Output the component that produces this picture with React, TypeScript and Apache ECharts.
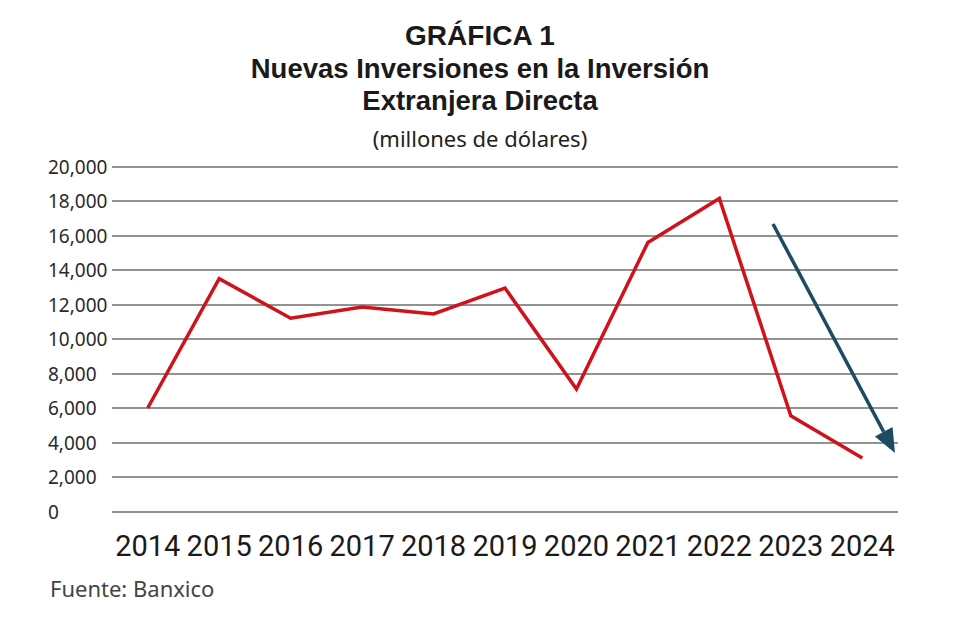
import React, { useEffect, useRef } from "react";
import * as echarts from "echarts";

const years = ["2014", "2015", "2016", "2017", "2018", "2019", "2020", "2021", "2022", "2023", "2024"];
const investment = [6000, 13500, 11200, 11850, 11450, 12950, 7100, 15600, 18150, 5550, 3100];
const yTicks = { min: 0, max: 20000, interval: 2000 };

const titleLines = ["GRÁFICA 1", "Nuevas Inversiones en la Inversión", "Extranjera Directa"];
const subtitle = "(millones de dólares)";
const source = "Fuente: Banxico";

export default function App() {
  const ref = useRef<HTMLDivElement>(null);
  useEffect(() => {
    const chart = echarts.init(ref.current!, null, { renderer: "svg" });
    const font = "'Noto Sans', 'Open Sans', sans-serif";
    const titleFont = "'Liberation Sans', 'Roboto', sans-serif";
    // arrow annotation (pixel space)
    const start = [773, 224];
    const tip = [895, 453];
    const dx = tip[0] - start[0];
    const dy = tip[1] - start[1];
    const len = Math.sqrt(dx * dx + dy * dy);
    const ux = dx / len;
    const uy = dy / len;
    const headLen = 24;
    const headHalf = 10;
    const bx = tip[0] - ux * headLen;
    const by = tip[1] - uy * headLen;
    const px = -uy;
    const py = ux;
    const titleStyle = { fontFamily: titleFont, fontWeight: "bold", color: "#1a1a1a" };
    chart.setOption({
      animation: false,
      backgroundColor: "#ffffff",
      title: [
        { text: titleLines[0], left: "center", top: 21, padding: 0, textStyle: { ...titleStyle, fontSize: 28 } },
        { text: titleLines[1], left: "center", top: 54, padding: 0, textStyle: { ...titleStyle, fontSize: 27.5 } },
        { text: titleLines[2], left: "center", top: 86, padding: 0, textStyle: { ...titleStyle, fontSize: 27.5 } },
        {
          text: subtitle,
          left: "center",
          top: 127,
          padding: 0,
          textStyle: { fontFamily: font, fontWeight: "normal", fontSize: 22, color: "#222" },
        },
      ],
      grid: { left: 112, right: 62, top: 166.5, bottom: 128.5, containLabel: false },
      xAxis: {
        type: "category",
        data: years,
        boundaryGap: true,
        axisLine: { show: false },
        axisTick: { show: false },
        axisLabel: {
          fontFamily: "'Roboto', sans-serif",
          fontSize: 29,
          color: "#1a1a1a",
          margin: 20,
          interval: 0,
        },
      },
      yAxis: {
        type: "value",
        min: yTicks.min,
        max: yTicks.max,
        interval: yTicks.interval,
        axisLine: { show: false },
        axisTick: { show: false },
        splitLine: { show: true, lineStyle: { color: "#6e6e6e", width: 1.5 } },
        axisLabel: {
          fontFamily: font,
          fontSize: 19,
          color: "#2a2a2a",
          align: "left",
          margin: 64,
          formatter: (v: number) => v.toLocaleString("en-US"),
        },
      },
      series: [
        {
          type: "line",
          data: investment,
          symbol: "none",
          lineStyle: { color: "#d0121c", width: 3.5, join: "miter" },
          itemStyle: { color: "#d0121c" },
        },
      ],
      graphic: [
        {
          type: "line",
          shape: { x1: start[0], y1: start[1], x2: bx, y2: by },
          style: { stroke: "#1b4c61", lineWidth: 3.5 },
          z: 100,
        },
        {
          type: "polygon",
          shape: {
            points: [
              [tip[0], tip[1]],
              [bx + px * headHalf, by + py * headHalf],
              [bx - px * headHalf, by - py * headHalf],
            ],
          },
          style: { fill: "#1b4c61" },
          z: 100,
        },
        {
          type: "text",
          left: 50,
          top: 577,
          style: { text: source, fontFamily: font, fontSize: 22, fill: "#444" },
        },
      ],
    });
    return () => chart.dispose();
  }, []);
  return <div ref={ref} style={{ width: 960, height: 640, position: "absolute", left: 0, top: 0 }} />;
}
